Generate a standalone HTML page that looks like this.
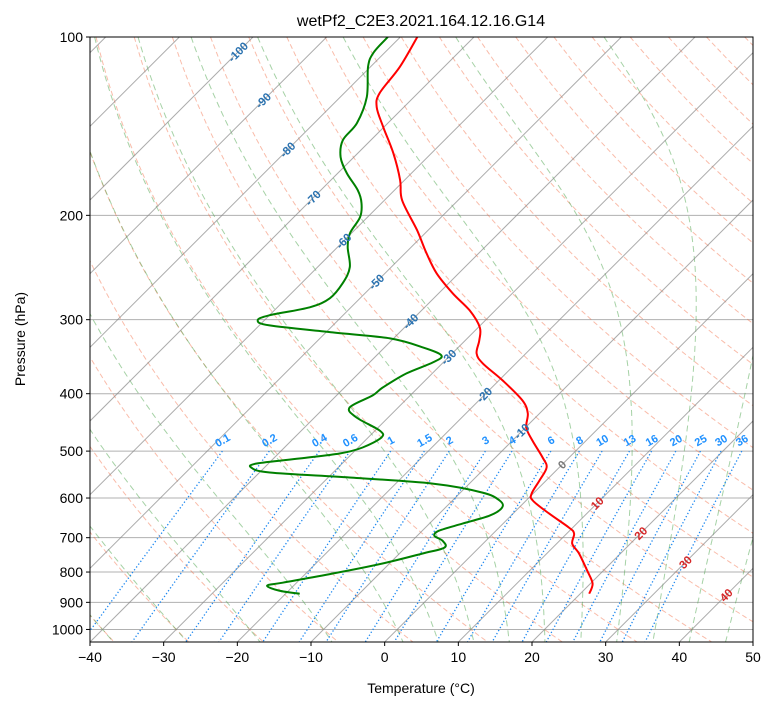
<!DOCTYPE html>
<html><head><meta charset="utf-8">
<style>
html,body{margin:0;padding:0;background:#fff;}
svg{display:block;font-family:"Liberation Sans","DejaVu Sans",sans-serif;}
</style></head>
<body>
<svg id="chart" width="775" height="708" viewBox="0 0 775 708" xmlns="http://www.w3.org/2000/svg">
<defs><clipPath id="clip"><rect x="90" y="37" width="663" height="605"/></clipPath></defs>
<rect width="775" height="708" fill="#fff"/>
<text x="421" y="26" font-size="16" text-anchor="middle">wetPf2_C2E3.2021.164.12.16.G14</text>
<g id="bg" clip-path="url(#clip)"></g>
<g id="series" clip-path="url(#clip)"></g>
<g id="labels"></g>
<rect x="90" y="37" width="663" height="605" fill="none" stroke="#000" stroke-width="1"/>
<g id="axes"></g>
<text x="421" y="693" font-size="14" text-anchor="middle">Temperature (°C)</text>
<text transform="translate(25,339) rotate(-90)" font-size="14" text-anchor="middle">Pressure (hPa)</text>
</svg>
<script>
// ---- data ----
const tempP = [100,112.4,124.3,131.3,141.9,157.0,174.4,188.6,211.9,231.7,250.5,270.8,289.3,309.1,325.1,342.0,355.6,379.9,410.6,431.9,456.1,479.8,512.6,532.9,560.5,589.6,605.9,637.4,673.1,688.9,716.3,744.7,795.6,836.9,870.1];
const tempT = [-77.7,-76.0,-75.2,-73.7,-70.1,-65.2,-60.6,-57.6,-51.5,-47.1,-43.0,-38.1,-33.5,-29.8,-28.1,-26.7,-24.5,-19.5,-14.1,-11.6,-9.9,-7.3,-3.6,-1.7,-0.9,-0.2,0.9,4.9,9.5,11.0,12.1,14.4,17.8,20.3,21.2];
const dewP = [100,106.4,112.4,126.3,139.7,149.3,159.5,169.7,181.3,190.8,201.5,214.4,226.4,244.7,260.4,276.1,285.9,295.0,300.8,306.7,315.2,322.6,334.1,344.7,354.2,369.7,390.4,402.7,422.0,438.7,461.5,474.2,493.0,504.7,514.5,524.7,532.9,543.4,554.1,567.2,587.4,605.9,622.7,642.4,662.6,681.1,694.5,708.2,727.6,744.7,774.3,805.0,833.7,843.5,860.0,870.1];
const dewT = [-81.7,-81.5,-80.3,-76.4,-74.2,-73.8,-71.8,-68.8,-65.0,-62.7,-61.0,-60.2,-58.6,-55.6,-54.4,-54.1,-55.6,-60.0,-60.9,-58.6,-49.1,-40.5,-34.8,-31.2,-31.4,-33.5,-34.8,-35.1,-36.6,-34.3,-29.4,-28.2,-29.4,-31.7,-36.5,-41.6,-41.8,-38.6,-27.1,-15.0,-7.0,-3.6,-2.3,-2.9,-5.5,-7.7,-7.7,-5.9,-4.7,-6.9,-11.0,-16.4,-21.9,-23.6,-21.3,-18.1];
const pTicks = [100,200,300,400,500,600,700,800,900,1000];
const tTicks = [-40,-30,-20,-10,0,10,20,30,40,50];
const mixRatios = [0.1,0.2,0.4,0.6,1,1.5,2,3,4,6,8,10,13,16,20,25,30,36];
const mixLabels = ["0.1","0.2","0.4","0.6","1","1.5","2","3","4","6","8","10","13","16","20","25","30","36"];
const isoLabelT = [-100,-90,-80,-70,-60,-50,-40,-30,-20,-10,0,10,20,30,40];
const isoLabelP = [106,128,155,187,221,259,302,347,402,463,527,612,688,770,875];

// ---- scales ----
const L=90,R=753,T0=37,B=642,PX=663/90,K=257.3;
function yP(p){return T0+K*Math.log(p/100);}
function xT(t,y){return L+(t+40)*PX+(B-y);}
const NS="http://www.w3.org/2000/svg";
function mk(tag,attrs,parent){const e=document.createElementNS(NS,tag);for(const k in attrs)e.setAttribute(k,attrs[k]);parent.appendChild(e);return e;}
const bg=document.getElementById('bg'),ser=document.getElementById('series'),lab=document.getElementById('labels'),ax=document.getElementById('axes');
function pts(ps,ts){return ps.map((p,i)=>{const y=yP(p);return [xT(ts[i],y),y];});}
function pathFrom(ps,ts){let d='';pts(ps,ts).forEach((q,i)=>{d+=(i?'L':'M')+q[0].toFixed(1)+','+q[1].toFixed(1);});return d;}
function smoothFrom(ps,ts){const P=pts(ps,ts);let d='M'+P[0][0].toFixed(1)+','+P[0][1].toFixed(1);
 for(let i=0;i<P.length-1;i++){const p0=P[Math.max(0,i-1)],p1=P[i],p2=P[i+1],p3=P[Math.min(P.length-1,i+2)];
  const c1=[p1[0]+(p2[0]-p0[0])/6,p1[1]+(p2[1]-p0[1])/6],c2=[p2[0]-(p3[0]-p1[0])/6,p2[1]-(p3[1]-p1[1])/6];
  d+='C'+c1[0].toFixed(1)+','+c1[1].toFixed(1)+' '+c2[0].toFixed(1)+','+c2[1].toFixed(1)+' '+p2[0].toFixed(1)+','+p2[1].toFixed(1);}
 return d;}

// horizontal gridlines
pTicks.forEach(p=>{const y=yP(p);
 const l=mk('line',{x1:L,x2:R,y1:y,y2:y,stroke:'#b0b0b0','stroke-width':1},bg);
 
 });
// dry adiabats
for(let th=-40;th<=250;th+=10){const ps=[],ts=[];for(let p=100;p<=1060;p+=10){ps.push(p);ts.push((th+273.15)*Math.pow(p/1000,0.2857)-273.15);}
 const e=mk('path',{d:pathFrom(ps,ts),fill:'none',stroke:'#f26b43','stroke-opacity':0.45,'stroke-width':1,'stroke-dasharray':'5,3'},bg);
 
 }
// moist adiabats
function es(tc){return 6.112*Math.exp(17.67*tc/(tc+243.5));}
function dTdp(p,tK){const tc=tK-273.15;const e=es(tc);const rs=0.622*e/(p-e);
 return (287.04*tK+2.501e6*rs)/(1004.6+(2.501e6*2.501e6*rs*0.622/(287.04*tK*tK)))/p;}
function moist(t0){const up=[[1000,t0+273.15]];let p=1000,t=t0+273.15;const h=-5;
 while(p>100){const k1=dTdp(p,t),k2=dTdp(p+h/2,t+h/2*k1),k3=dTdp(p+h/2,t+h/2*k2),k4=dTdp(p+h,t+h*k3);t+=h/6*(k1+2*k2+2*k3+k4);p+=h;up.push([p,t]);}
 const dn=[];p=1000;t=t0+273.15;while(p<1060){const hh=5;const k1=dTdp(p,t),k2=dTdp(p+hh/2,t+hh/2*k1),k3=dTdp(p+hh/2,t+hh/2*k2),k4=dTdp(p+hh,t+hh*k3);t+=hh/6*(k1+2*k2+2*k3+k4);p+=hh;dn.push([p,t]);}
 const all=up.reverse().concat(dn);return [all.map(a=>a[0]),all.map(a=>a[1]-273.15)];}
const mT=[-40,-30,-20,-10,0,5,10,15,20,25,30,35,40,45,50];
mT.forEach(t0=>{const r=moist(t0);
 const e=mk('path',{d:pathFrom(r[0],r[1]),fill:'none',stroke:'#4ea64e','stroke-opacity':0.5,'stroke-width':1,'stroke-dasharray':'6,4'},bg);
 
 });
// isotherms
for(let t=-160;t<=50;t+=10){const e=mk('line',{x1:xT(t,B),y1:B,x2:xT(t,T0),y2:T0,stroke:'#888','stroke-opacity':0.7,'stroke-width':1},bg);
 
 }
// mixing ratio lines
function tdFromW(w,p){const e=w/1000*p/(0.622+w/1000);const l=Math.log(e/6.112);return 243.5*l/(17.67-l);}
mixRatios.forEach((w,i)=>{const ps=[],ts=[];for(let p=500;p<=1060;p+=10){ps.push(p);ts.push(tdFromW(w,p));}
 const e=mk('path',{d:pathFrom(ps,ts),fill:'none',stroke:'#1e88f0','stroke-width':1.3,'stroke-dasharray':'1.3,2.2'},bg);
 
 
 const y=yP(500),x=xT(tdFromW(w,500),y);
 const t=mk('text',{x:x,y:y-7,'font-size':11,'font-weight':'bold',fill:'#1e90ff','text-anchor':'middle',transform:`rotate(-30 ${x} ${y-11})`},lab);
 t.textContent=mixLabels[i];
 
 });
// isotherm labels
isoLabelT.forEach((t,i)=>{const y=yP(isoLabelP[i]),x=xT(t,y);
 const col=t<0?'#2a72b0':(t===0?'#777':'#d62728');
 const e=mk('text',{x:x,y:y+4,'font-size':11.5,'font-weight':'bold',fill:col,'text-anchor':'middle',transform:`rotate(-45 ${x} ${y})`},lab);
 e.textContent=String(t);
 
 });
// series
const tl=mk('path',{d:smoothFrom(tempP,tempT),fill:'none',stroke:'#ff0000','stroke-width':2,'stroke-linejoin':'round'},ser);


const dl=mk('path',{d:smoothFrom(dewP,dewT),fill:'none',stroke:'#008000','stroke-width':2,'stroke-linejoin':'round'},ser);


// axes ticks
pTicks.forEach(p=>{const y=yP(p);
 const tk=mk('line',{x1:L-4,x2:L,y1:y,y2:y,stroke:'#000'},ax);
 
 
 const t=mk('text',{x:L-7,y:y+5,'font-size':14,'text-anchor':'end'},ax);t.textContent=p;
 
 });
tTicks.forEach(tv=>{const x=L+(tv+40)*PX;
 const tk=mk('line',{x1:x,x2:x,y1:B,y2:B+4,stroke:'#000'},ax);
 
 
 const t=mk('text',{x:x,y:B+20,'font-size':14,'text-anchor':'middle'},ax);t.textContent=(tv<0?'\u2212'+(-tv):tv);
 
 });
</script>
</body></html>
